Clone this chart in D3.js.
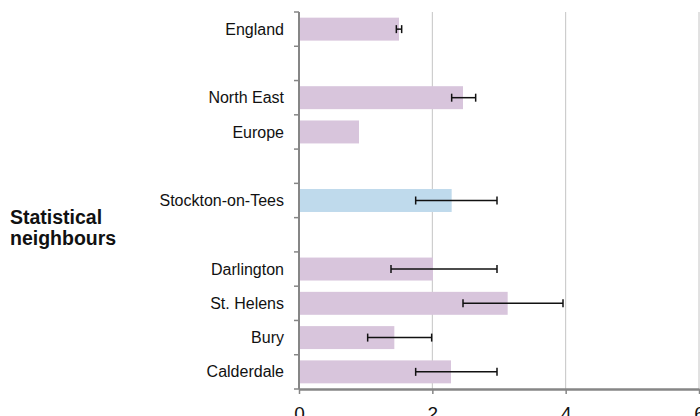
<!DOCTYPE html>
<html>
<head>
<meta charset="utf-8">
<script src="https://cdn.jsdelivr.net/npm/d3@7"></script>
<style>
  body { margin: 0; background: #fff; }
  svg { display: block; font-family: "Liberation Sans", Arial, sans-serif; }
</style>
</head>
<body>
<svg></svg>
<script>
// rows top to bottom, "" = spacer row
var categories = ["England", "", "North East", "Europe", "", "Stockton-on-Tees", "", "Darlington", "St. Helens", "Bury", "Calderdale"];
var values = [1.5, null, 2.46, 0.9, null, 2.29, null, 2.01, 3.13, 1.43, 2.28];
var lower = [1.46, null, 2.29, null, null, 1.75, null, 1.38, 2.46, 1.03, 1.75];
var upper = [1.54, null, 2.65, null, null, 2.97, null, 2.97, 3.96, 1.99, 2.97];
var highlight = "Stockton-on-Tees";
var xTicks = [0, 2, 4, 6];
var groupLabel = ["Statistical", "neighbours"];

var width = 700, height = 416;
var svg = d3.select("svg").attr("width", width).attr("height", height);

var rows = categories.map(function(c, i) {
  return { id: "r" + i, name: c, value: values[i], lo: lower[i], hi: upper[i] };
});

var x = d3.scaleLinear().domain([0, 6]).range([299, 699]);
var y = d3.scaleBand()
  .domain(rows.map(d => d.id))
  .range([12, 389])
  .paddingInner(0.33)
  .paddingOuter(0.165);

var step = y.step();
var gap = step * y.paddingInner() / 2;

// gridlines
svg.append("g").selectAll("line")
  .data(xTicks.filter(t => t > 0))
  .enter().append("line")
  .attr("x1", d => x(d)).attr("x2", d => x(d))
  .attr("y1", 12).attr("y2", 389)
  .attr("stroke", "#c4c4c4").attr("stroke-width", 1);

// bars
svg.append("g").selectAll("rect")
  .data(rows.filter(d => d.value != null))
  .enter().append("rect")
  .attr("x", x(0))
  .attr("y", d => y(d.id))
  .attr("width", d => x(d.value) - x(0))
  .attr("height", y.bandwidth())
  .attr("fill", d => d.name === highlight ? "#bfdaec" : "#d8c5dc");

// error bars
var err = svg.append("g").selectAll("g")
  .data(rows.filter(d => d.lo != null))
  .enter().append("g")
  .attr("stroke", "#111").attr("stroke-width", 1.5);
err.append("line")
  .attr("x1", d => x(d.lo)).attr("x2", d => x(d.hi))
  .attr("y1", d => y(d.id) + y.bandwidth() / 2)
  .attr("y2", d => y(d.id) + y.bandwidth() / 2);
err.append("line")
  .attr("x1", d => x(d.lo)).attr("x2", d => x(d.lo))
  .attr("y1", d => y(d.id) + y.bandwidth() / 2 - 4)
  .attr("y2", d => y(d.id) + y.bandwidth() / 2 + 4);
err.append("line")
  .attr("x1", d => x(d.hi)).attr("x2", d => x(d.hi))
  .attr("y1", d => y(d.id) + y.bandwidth() / 2 - 4)
  .attr("y2", d => y(d.id) + y.bandwidth() / 2 + 4);

// y axis line + ticks at row boundaries
var axisColor = "#868686";
svg.append("line")
  .attr("x1", x(0)).attr("x2", x(0))
  .attr("y1", 12).attr("y2", 389)
  .attr("stroke", axisColor).attr("stroke-width", 2);
var bounds = rows.map(d => y(d.id) - gap).concat([y(rows[rows.length - 1].id) + y.bandwidth() + gap]);
svg.append("g").selectAll("line")
  .data(bounds)
  .enter().append("line")
  .attr("x1", x(0) - 5).attr("x2", x(0))
  .attr("y1", d => d).attr("y2", d => d)
  .attr("stroke", axisColor).attr("stroke-width", 1.5);

// category labels
svg.append("g").selectAll("text")
  .data(rows.filter(d => d.name))
  .enter().append("text")
  .attr("x", 284)
  .attr("y", d => y(d.id) + y.bandwidth() / 2)
  .attr("dy", "0.35em")
  .attr("text-anchor", "end")
  .attr("font-size", 16)
  .attr("fill", "#111")
  .text(d => d.name);

// x axis
var xAxis = svg.append("g")
  .attr("transform", "translate(0,389)")
  .call(d3.axisBottom(x).tickValues(xTicks).tickFormat(d3.format("d")).tickSize(5).tickPadding(13).tickSizeOuter(0));
xAxis.select(".domain").attr("stroke", axisColor).attr("stroke-width", 2.5);
xAxis.selectAll(".tick line").attr("stroke", axisColor).attr("stroke-width", 1.5);
xAxis.selectAll(".tick text")
  .attr("font-size", 19)
  .attr("font-family", "Liberation Sans, Arial, sans-serif")
  .attr("fill", "#111");

// group label
svg.append("text")
  .attr("x", 10)
  .attr("y", 224)
  .attr("font-size", 19.5)
  .attr("font-weight", "bold")
  .attr("fill", "#111")
  .selectAll("tspan")
  .data(groupLabel)
  .enter().append("tspan")
  .attr("x", 10)
  .attr("dy", (d, i) => i === 0 ? 0 : 21)
  .text(d => d);
</script>
</body>
</html>
